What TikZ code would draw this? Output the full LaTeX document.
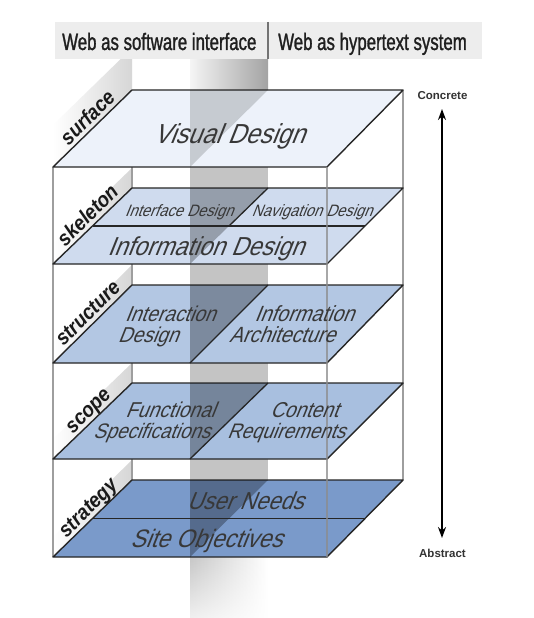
\documentclass[tikz,border=0pt]{standalone}
\usepackage{fontspec}
\setmainfont{Liberation Sans}
\newfontfamily\headfont[FakeStretch=0.71,FakeBold=1.2]{Liberation Sans}
\newfontfamily\planefont[FakeSlant=0.4,FakeStretch=0.9]{Liberation Sans}
\newfontfamily\labfont[FakeStretch=0.9]{Liberation Sans}
\usetikzlibrary{arrows.meta,fadings}
\definecolor{cSurf}{HTML}{EDF2FA}
\definecolor{cSkel}{HTML}{CFDBEE}
\definecolor{cStru}{HTML}{B3C7E3}
\definecolor{cScop}{HTML}{A8BFDF}
\definecolor{cStra}{HTML}{7A9ACA}
\definecolor{cHead}{HTML}{EDEDED}
\begin{document}
\begin{tikzpicture}[x=1pt,y=-1pt,
  planeedge/.style={draw=black!85,line width=1.4pt,line join=round},
  divline/.style={draw=black!85,line width=1.3pt},
  framebk/.style={draw=black!38,line width=1.6pt},
  framefr/.style={draw=black!45,line width=1.6pt,draw opacity=0.75},
  walltint/.style={fill=black,fill opacity=#1},
  ptext/.style={font=\planefont\fontsize{#1}{#1}\selectfont,text=black!78,inner sep=0pt,anchor=base},
  labtext/.style={font=\labfont\bfseries\itshape\fontsize{21}{21}\selectfont,text=black!90,inner sep=0pt,anchor=base,rotate=45},
  panel/.style={left color=white,right color=black!16},
  headtext/.style={font=\headfont\fontsize{23.7}{24}\selectfont,text=black!88,inner sep=0pt,anchor=base west},
  endtext/.style={font=\bfseries\fontsize{11.5}{11.5}\selectfont,text=black!80,inner sep=0pt}
]
\useasboundingbox (0,0) rectangle (533,618);
\fill[white] (0,0) rectangle (533,618);

% vertical wall band
\fill[black!23] (190,90) rectangle (268,557);
\shade[left color=black!4,right color=black!36] (190,59) rectangle (268,90);
\shade[left color=black!22,right color=white,path fading=south] (190,557) rectangle (268,640);

% label panels
\shade[panel] (53,167) -- (132,90) -- (132,48) -- (53,125) -- cycle;
\shade[panel] (53,264) -- (132,188) -- (132,168) -- (53,244) -- cycle;
\shade[panel] (53,363) -- (132,285) -- (132,265) -- (53,343) -- cycle;
\shade[panel] (53,459) -- (132,383) -- (132,363) -- (53,439) -- cycle;
\shade[panel] (53,557) -- (132,480) -- (132,460) -- (53,537) -- cycle;

% back frame lines
\draw[framebk] (132,90) -- (132,480);
\draw[framebk] (403,90) -- (403,480);
\draw[framebk] (53,167) -- (53,557);

% surface
\path[planeedge,fill=cSurf] (53,167) -- (327,167) -- (403,90) -- (132,90) -- cycle;
\fill[walltint=0.16] (190,90) -- (268,90) -- (190,167) -- cycle;
% skeleton
\path[planeedge,fill=cSkel] (53,264) -- (327,264) -- (403,188) -- (132,188) -- cycle;
\fill[walltint=0.28] (190,188) -- (268,188) -- (190,264) -- cycle;
\draw[divline] (92.5,226) -- (365,226);
\draw[divline] (268,188) -- (229,226);
% structure
\path[planeedge,fill=cStru] (53,363) -- (327,363) -- (403,285) -- (132,285) -- cycle;
\fill[walltint=0.3] (190,285) -- (268,285) -- (190,363) -- cycle;
\draw[divline] (268,285) -- (190,363);
% scope
\path[planeedge,fill=cScop] (53,459) -- (327,459) -- (403,383) -- (132,383) -- cycle;
\fill[walltint=0.3] (190,383) -- (268,383) -- (190,459) -- cycle;
\draw[divline] (268,383) -- (190,459);
% strategy
\path[planeedge,fill=cStra] (53,557) -- (327,557) -- (403,480) -- (132,480) -- cycle;
\fill[walltint=0.3] (190,480) -- (268,480) -- (190,557) -- cycle;
\draw[divline] (92.5,518.5) -- (365,518.5);

% front frame line
\draw[framefr] (327,167) -- (327,557);

% plane texts
\node[ptext=27.5] (vd) at (229,143) {Visual Design};
\node[ptext=16.5] (ifd) at (179,216) {Interface Design};
\node[ptext=16.5] (nvd) at (312,216) {Navigation Design};
\node[ptext=26] (ind) at (205.5,255) {Information Design};
\node[ptext=21.5] (ia1) at (170,321) {Interaction};
\node[ptext=21.5] (ia2) at (148,342) {Design};
\node[ptext=22] (ar1) at (304,321) {Information};
\node[ptext=22] (ar2) at (282,342) {Architecture};
\node[ptext=21.5] (fs1) at (170,417) {Functional};
\node[ptext=21] (fs2) at (151.5,438) {Specifications};
\node[ptext=21.5] (cr1) at (304,417) {Content};
\node[ptext=21] (cr2) at (286,438) {Requirements};
\node[ptext=24.5] (un) at (245,509) {User Needs};
\node[ptext=25.3] (so) at (206,547) {Site Objectives};

% layer labels
\node[labtext] (lsurf) at (92.5,122.5) {surface};
\node[labtext] (lskel) at (92.5,220) {skeleton};
\node[labtext] (lstru) at (92.5,318) {structure};
\node[labtext] (lscop) at (92.5,415) {scope};
\node[labtext] (lstra) at (92.5,512.5) {strategy};

% header
\fill[cHead] (55,22) rectangle (482,59);
\draw[draw=black!55,line width=1.8pt] (268,22) -- (268,59);
\node[headtext] (h1) at (62,50) {Web as software interface};
\node[headtext] (h2) at (278,50) {Web as hypertext system};

% concrete / abstract axis
\node[endtext] (conc) at (442.5,96) {Concrete};
\node[endtext] (abst) at (442.5,553) {Abstract};
\coordinate (atop) at (442,109);
\coordinate (abot) at (442,538);
\draw[line width=1.8pt,{Stealth[length=11pt,width=8pt]}-{Stealth[length=11pt,width=8pt]}] (abot) -- (atop);
\end{tikzpicture}
\end{document}
